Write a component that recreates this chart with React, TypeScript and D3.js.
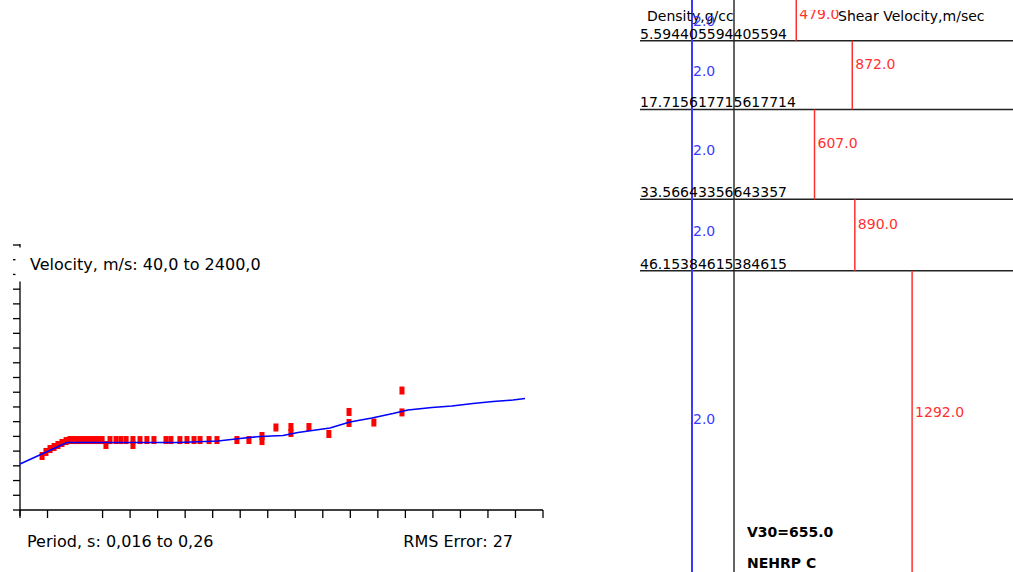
import React from "react";
import * as d3 from "d3";

const W = 1013;
const H = 572;

// dispersion curve (left panel)
const periodRange = [0.016, 0.26];
const velocityRange = [40, 2400];

const obsPeriods = [
  0.0263, 0.0281, 0.03, 0.0319, 0.0337, 0.0356, 0.0375,
  0.0393, 0.0412, 0.0431, 0.0449, 0.0468, 0.0487, 0.0505, 0.0524, 0.0543, 0.0561, 0.058,
  0.0608, 0.0631, 0.0655, 0.0687, 0.0687, 0.072, 0.0752, 0.0785, 0.0841, 0.0864, 0.0906,
  0.0939, 0.0972, 0.1, 0.1042, 0.1079, 0.1172, 0.1228, 0.1289, 0.1289, 0.1354, 0.1424,
  0.1424, 0.1508, 0.1601, 0.1695, 0.1695, 0.1811, 0.1942, 0.1942,
];
const obsVelocities = [
  521, 557, 583, 601, 619, 637, 654,
  663, 663, 663, 663, 663, 663, 663, 663, 663, 619, 663,
  663, 663, 663, 663, 619, 663, 663, 663, 663, 663, 663,
  663, 663, 663, 663, 663, 663, 663, 699, 654, 775, 779,
  726, 779, 717, 913, 815, 819, 1104, 909,
];

const fitPeriods = [
  0.016, 0.0379, 0.0897, 0.1084, 0.1186, 0.128, 0.1387, 0.1457, 0.1606, 0.1699,
  0.1802, 0.19, 0.197, 0.2082, 0.2175, 0.2273, 0.2367, 0.246, 0.2516,
];
const fitVelocities = [
  450, 641, 641, 655, 677, 695, 703, 730, 770, 824,
  859, 899, 931, 953, 966, 988, 1006, 1020, 1033,
];

// layered profile (right panel)
const depthLabels = [
  "5.594405594405594",
  "17.715617715617714",
  "33.56643356643357",
  "46.15384615384615",
];
const shearVelocities = [479, 872, 607, 890, 1292];
const densities = [2.0, 2.0, 2.0, 2.0, 2.0];
const maxDepth = 100;

const font = "DejaVu Sans";

export default function App() {
  // left scales
  const x = d3.scaleLinear().domain(periodRange).range([20, 543]);
  const y = d3.scaleLinear().domain(velocityRange).range([510, 245]);
  const yTicks = d3.range(19).map((i) => 40 + (i * 2360) / 18);
  const xTicks = d3
    .range(20)
    .filter((i) => i !== 2)
    .map((i) => 0.016 + (i * 0.244) / 19);

  const fitLine = d3
    .line<number>()
    .x((p) => x(p))
    .y((_, i) => y(fitVelocities[i]))(fitPeriods);

  // right scales
  const dy = d3.scaleLinear().domain([0, maxDepth]).range([9, 576]);
  const vx = d3.scaleLinear().domain([0, 2000]).range([728, 1013]);
  const rx = d3.scaleLinear().domain([1, 3]).range([640, 744]);

  const boundaries = depthLabels.map(Number);
  const tops = [0, ...boundaries];
  const bottoms = [...boundaries, maxDepth];

  return (
    <svg
      width={W}
      height={H}
      style={{ position: "absolute", left: 0, top: 0, background: "#fff" }}
      fontFamily={font}
    >
      <defs>
        <clipPath id="panelClip">
          <rect x={636} y={10} width={380} height={H} />
        </clipPath>
      </defs>

      {/* ---------- left: dispersion curve ---------- */}
      <g stroke="#000" strokeWidth={1.3}>
        <line x1={20} x2={20} y1={244} y2={516} />
        {yTicks.map((t, i) => (
          <line key={"yt" + i} x1={13} x2={20} y1={y(t)} y2={y(t)} />
        ))}
        <line x1={20} x2={543} y1={510} y2={510} />
        {xTicks.map((t, i) => (
          <line key={"xt" + i} x1={x(t)} x2={x(t)} y1={510} y2={518} />
        ))}
      </g>

      <g fill="#ff0000">
        {obsPeriods.map((p, i) => (
          <rect
            key={"o" + i}
            x={x(p) - 2.5}
            y={y(obsVelocities[i]) - 4}
            width={5}
            height={8}
          />
        ))}
      </g>
      <path d={fitLine ?? ""} fill="none" stroke="#0000ff" strokeWidth={1.6} />

      <rect x={15.5} y={247.5} width={255} height={34} fill="#fff" />
      <text x={30} y={270} fontSize={16} fill="#000">
        Velocity, m/s: 40,0 to 2400,0
      </text>
      <text x={27} y={547} fontSize={16} fill="#000">
        Period, s: 0,016 to 0,26
      </text>
      <text x={513} y={547} fontSize={16} fill="#000" textAnchor="end">
        RMS Error: 27
      </text>

      {/* ---------- right: layered profile ---------- */}
      <g stroke="#222" strokeWidth={1.4}>
        {boundaries.map((d, i) => (
          <line key={"b" + i} x1={640} x2={W} y1={dy(d)} y2={dy(d)} />
        ))}
        <line x1={734} x2={734} y1={0} y2={H} />
      </g>
      <line
        x1={rx(densities[0])}
        x2={rx(densities[0])}
        y1={0}
        y2={H}
        stroke="#3b3bff"
        strokeWidth={2}
      />
      <g stroke="#ff3030" strokeWidth={1.5}>
        {shearVelocities.map((v, i) => (
          <line
            key={"v" + i}
            x1={vx(v)}
            x2={vx(v)}
            y1={i === 0 ? 0 : dy(tops[i])}
            y2={dy(bottoms[i])}
          />
        ))}
      </g>

      <text x={647} y={21} fontSize={14} fill="#000">
        Density,g/cc
      </text>
      <text x={838} y={21} fontSize={14} fill="#000">
        Shear Velocity,m/sec
      </text>

      {depthLabels.map((s, i) => (
        <text key={"dl" + i} x={640} y={dy(boundaries[i]) - 2} fontSize={14} fill="#000">
          {s}
        </text>
      ))}

      {densities.map((d, i) => (
        <text
          key={"dn" + i}
          x={rx(d) + 1}
          y={(dy(tops[i]) + dy(bottoms[i])) / 2 + 1}
          fontSize={14}
          fill="#3b3bff"
        >
          {d.toFixed(1)}
        </text>
      ))}

      <g clipPath="url(#panelClip)">
        {shearVelocities.map((v, i) => (
          <text
            key={"sv" + i}
            x={vx(v) + 3}
            y={(dy(tops[i]) + dy(bottoms[i])) / 2 - 6}
            fontSize={14}
            fill="#ff3030"
          >
            {v.toFixed(1)}
          </text>
        ))}
      </g>

      <text x={747} y={537} fontSize={14} fontWeight="bold" fill="#000">
        V30=655.0
      </text>
      <text x={747} y={568} fontSize={14} fontWeight="bold" fill="#000">
        NEHRP C
      </text>
    </svg>
  );
}
